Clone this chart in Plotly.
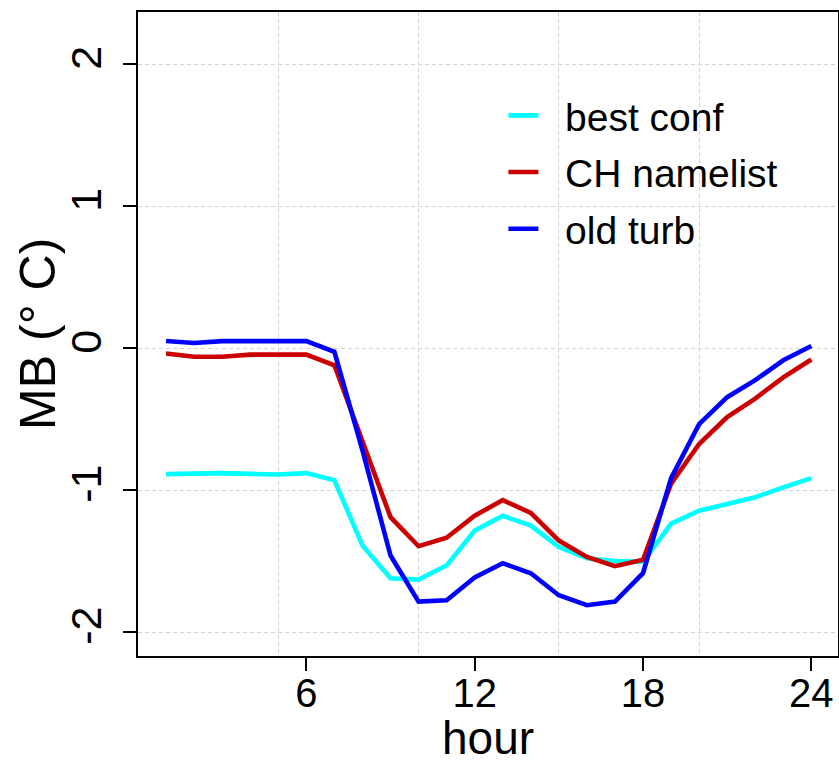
import plotly.graph_objects as go

hours = list(range(1, 25))
best_conf = [-0.887, -0.88, -0.88, -0.885, -0.89, -0.88, -0.93, -1.39, -1.62, -1.63,
             -1.53, -1.285, -1.18, -1.25, -1.40, -1.48, -1.50, -1.505, -1.235, -1.145,
             -1.10, -1.05, -0.98, -0.915]
ch_namelist = [-0.037, -0.06, -0.06, -0.045, -0.045, -0.045, -0.12, -0.66, -1.19, -1.395,
               -1.335, -1.18, -1.07, -1.16, -1.355, -1.47, -1.535, -1.49, -0.955, -0.675,
               -0.485, -0.355, -0.205, -0.08]
old_turb = [0.051, 0.037, 0.05, 0.05, 0.05, 0.05, -0.025, -0.72, -1.46, -1.785,
            -1.775, -1.615, -1.515, -1.585, -1.74, -1.81, -1.785, -1.585, -0.915, -0.535,
            -0.345, -0.225, -0.085, 0.015]

series_names = ["best conf", "CH namelist", "old turb"]
series_values = [best_conf, ch_namelist, old_turb]
series_colors = ["#00FFFF", "#CD0000", "#0000FF"]

x_ticks = [6, 12, 18, 24]
y_ticks = [-2, -1, 0, 1, 2]
x_title = "hour"
y_title = "MB (° C)"

FONT = "Liberation Sans, Arial, sans-serif"
NB = "\u00a0\u00a0"

fig = go.Figure()
for i, (name, vals, col) in enumerate(zip(series_names, series_values, series_colors)):
    fig.add_trace(go.Scatter(x=hours, y=vals, mode="lines", name=NB + name,
                             legendgroup=f"g{i}",
                             line=dict(color=col, width=4.6)))

grid_col = "#D3D3D3"
fig.update_layout(
    width=839, height=765,
    margin=dict(l=138, r=1, t=12, b=109, pad=0),
    paper_bgcolor="white", plot_bgcolor="white",
    font=dict(family=FONT, color="black"),
    showlegend=True,
    legend=dict(x=0.522, y=0.889, xanchor="left", yanchor="top",
                bgcolor="rgba(0,0,0,0)", borderwidth=0,
                font=dict(size=39, family=FONT),
                tracegroupgap=3, itemwidth=30),
    xaxis=dict(range=[0, 24.95], tickmode="array", tickvals=x_ticks,
               ticktext=[str(t) for t in x_ticks], automargin=False,
               ticks="outside", ticklen=13, tickwidth=2, tickcolor="black",
               showline=True, linewidth=2, linecolor="black", mirror=True,
               showgrid=False, zeroline=False, ticklabelstandoff=-12,
               minor=dict(tick0=0, dtick=5, showgrid=True, gridcolor=grid_col,
                          griddash="4px,3px", gridwidth=1.3, ticks=""),
               tickfont=dict(size=40)),
    yaxis=dict(range=[-2.168, 2.368], tickmode="array", tickvals=y_ticks,
               ticktext=[str(t) for t in y_ticks], tickangle=-90, automargin=False,
               ticks="outside", ticklen=13, tickwidth=2, tickcolor="black",
               showline=True, linewidth=2, linecolor="black", mirror=True,
               showgrid=True, gridcolor=grid_col, griddash="4px,3px", gridwidth=1.3,
               zeroline=False, ticklabelstandoff=5,
               tickfont=dict(size=43)),
    annotations=[
        dict(text=x_title, xref="paper", yref="paper", x=0.5, y=-0.127,
             xanchor="center", yanchor="middle", showarrow=False,
             font=dict(size=46, family=FONT)),
        dict(text=y_title, xref="paper", yref="paper", x=-0.143, y=0.5,
             xanchor="center", yanchor="middle", showarrow=False, textangle=-90,
             font=dict(size=50, family=FONT)),
    ],
)

fig.write_html("out.html", config={"displayModeBar": False},
               post_script="document.body.style.margin='0';document.body.style.padding='0';")
